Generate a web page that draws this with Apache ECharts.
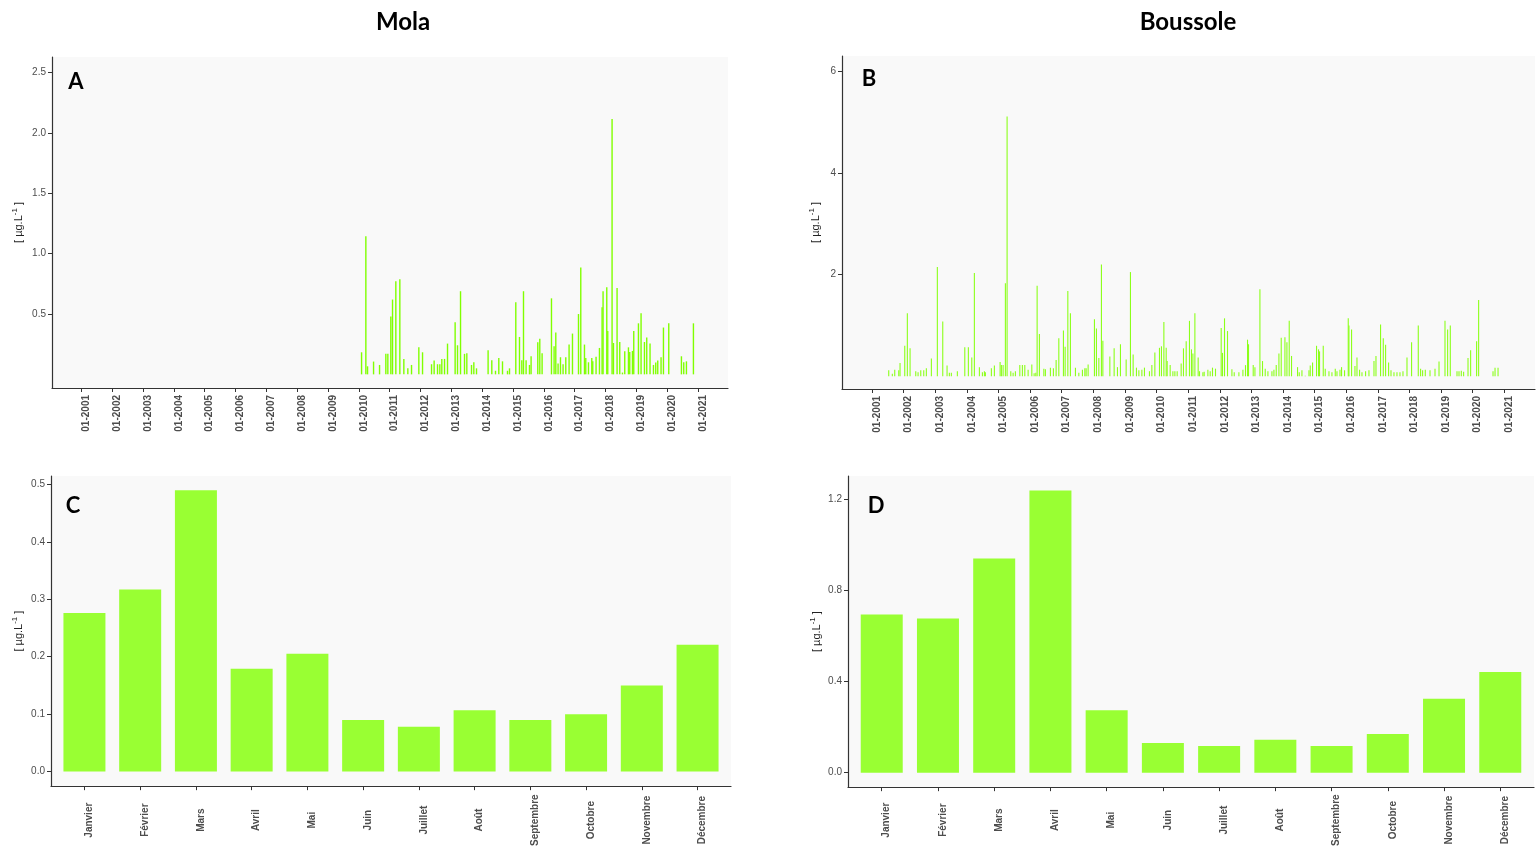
<!DOCTYPE html>
<html><head><meta charset="utf-8">
<script src="https://cdn.jsdelivr.net/npm/echarts@6/dist/echarts.min.js"></script>
<style>html,body{margin:0;padding:0;background:#fff}#c{width:1539px;height:849px}</style>
</head><body><div id="c"></div>
<script>
// ---------- DATA ----------
const months = ['Janvier','Février','Mars','Avril','Mai','Juin','Juillet','Août','Septembre','Octobre','Novembre','Décembre'];
const molaMonthly = [0.276, 0.317, 0.490, 0.179, 0.205, 0.090, 0.078, 0.107, 0.090, 0.100, 0.150, 0.221];
const bousMonthly = [0.693, 0.676, 0.938, 1.236, 0.274, 0.130, 0.117, 0.144, 0.117, 0.169, 0.324, 0.441];
const yearTicks = [2001,2002,2003,2004,2005,2006,2007,2008,2009,2010,2011,2012,2013,2014,2015,2016,2017,2018,2019,2020,2021];

// Mola sampling dates (decimal years) and values
const molaYears = [2010.088,2010.227,2010.282,2010.477,2010.671,2010.875,2010.940,2011.037,2011.092,2011.199,
2011.329,2011.459,2011.588,2011.708,2011.945,2012.065,2012.357,2012.441,2012.551,2012.626,
2012.690,2012.778,2012.875,2013.122,2013.199,2013.297,2013.426,2013.501,2013.653,2013.728,
2013.815,2014.191,2014.311,2014.431,2014.538,2014.658,2014.820,2014.885,2015.089,2015.209,
2015.284,2015.339,2015.423,2015.533,2015.585,2015.802,2015.867,2015.942,2016.246,2016.331,
2016.386,2016.460,2016.538,2016.622,2016.710,2016.817,2016.927,2017.122,2017.196,2017.316,
2017.358,2017.446,2017.553,2017.585,2017.692,2017.802,2017.887,2017.919,2018.039,2018.071,
2018.211,2018.256,2018.373,2018.460,2018.548,2018.622,2018.742,2018.784,2018.872,2018.914,
2019.066,2019.151,2019.261,2019.335,2019.442,2019.553,2019.627,2019.692,2019.799,2019.877,
2020.049,2020.460,2020.535,2020.622,2020.849];
const molaValues = [0.183,1.144,0.067,0.106,0.078,0.170,0.170,0.479,0.620,0.771,
0.788,0.128,0.050,0.078,0.224,0.183,0.084,0.114,0.084,0.084,
0.128,0.128,0.255,0.432,0.241,0.689,0.170,0.176,0.078,0.100,
0.050,0.200,0.117,0.030,0.136,0.108,0.030,0.050,0.597,0.310,
0.117,0.689,0.117,0.078,0.150,0.266,0.296,0.176,0.630,0.233,
0.346,0.090,0.142,0.084,0.142,0.247,0.338,0.500,0.885,0.247,
0.136,0.100,0.136,0.108,0.147,0.219,0.556,0.689,0.722,0.360,
2.116,0.260,0.716,0.268,0.015,0.191,0.224,0.186,0.194,0.360,
0.423,0.506,0.268,0.305,0.255,0.078,0.098,0.114,0.142,0.388,
0.423,0.150,0.100,0.108,0.423];

// Boussole sampling dates (decimal years) and values
const bousYears = [2001.528,2001.642,2001.718,2001.845,2001.886,2002.035,2002.117,2002.203,2002.383,2002.456,
2002.541,2002.636,2002.718,2002.877,2003.066,2003.237,2003.373,2003.446,2003.509,2003.699,
2003.934,2004.047,2004.155,2004.237,2004.396,2004.491,2004.554,2004.585,2004.775,2004.870,
2005.051,2005.092,2005.146,2005.218,2005.272,2005.389,2005.462,2005.535,2005.674,2005.756,
2005.832,2005.937,2006.054,2006.127,2006.180,2006.222,2006.294,2006.434,2006.484,2006.642,
2006.737,2006.823,2006.908,2007.054,2007.108,2007.193,2007.275,2007.434,2007.541,2007.655,
2007.731,2007.772,2007.835,2008.035,2008.098,2008.174,2008.256,2008.301,2008.522,2008.658,
2008.763,2008.858,2009.038,2009.174,2009.259,2009.364,2009.440,2009.535,2009.617,2009.775,
2009.851,2009.946,2010.092,2010.155,2010.231,2010.304,2010.335,2010.430,2010.516,2010.579,
2010.652,2010.778,2010.851,2010.937,2011.041,2011.104,2011.149,2011.212,2011.316,2011.358,
2011.465,2011.506,2011.623,2011.696,2011.769,2011.864,2012.044,2012.085,2012.149,2012.244,
2012.383,2012.456,2012.604,2012.731,2012.813,2012.877,2012.908,2013.057,2013.111,2013.269,
2013.351,2013.437,2013.522,2013.649,2013.712,2013.785,2013.870,2013.943,2014.060,2014.123,
2014.196,2014.269,2014.459,2014.513,2014.598,2014.703,2014.820,2014.861,2014.934,2015.060,
2015.123,2015.155,2015.272,2015.335,2015.453,2015.547,2015.652,2015.706,2015.801,2015.851,
2015.946,2016.063,2016.085,2016.168,2016.275,2016.339,2016.421,2016.497,2016.611,2016.718,
2016.877,2016.940,2017.085,2017.171,2017.244,2017.339,2017.415,2017.509,2017.604,2017.699,
2017.794,2017.921,2018.066,2018.278,2018.351,2018.415,2018.500,2018.649,2018.807,2018.934,
2019.123,2019.206,2019.291,2019.503,2019.566,2019.639,2019.712,2019.851,2019.934,2020.123,
2020.187,2020.642,2020.706,2020.801];
const bousValues = [0.12,0.05,0.13,0.12,0.26,0.60,1.24,0.55,0.10,0.08,
0.12,0.12,0.16,0.35,2.15,1.08,0.21,0.07,0.07,0.10,
0.57,0.57,0.37,2.03,0.18,0.08,0.10,0.08,0.16,0.21,
0.28,0.22,0.22,1.83,5.11,0.10,0.07,0.10,0.22,0.22,
0.22,0.13,0.23,0.06,0.07,1.78,0.83,0.15,0.14,0.17,
0.16,0.32,0.75,0.90,0.58,1.68,1.24,0.17,0.07,0.13,
0.16,0.16,0.23,1.12,0.94,0.36,2.20,0.70,0.39,0.55,
0.18,0.63,0.33,2.05,0.43,0.17,0.12,0.13,0.17,0.10,
0.22,0.47,0.56,0.59,1.07,0.56,0.30,0.22,0.10,0.10,
0.10,0.25,0.55,0.69,1.09,0.53,0.45,1.24,0.37,0.10,
0.08,0.09,0.13,0.10,0.17,0.15,0.95,0.46,1.14,0.89,
0.14,0.08,0.08,0.13,0.22,0.72,0.63,0.22,0.18,1.71,
0.30,0.15,0.10,0.10,0.13,0.22,0.45,0.76,0.77,0.67,
1.09,0.40,0.18,0.08,0.12,0.01,0.12,0.21,0.27,0.60,
0.53,0.49,0.60,0.15,0.10,0.08,0.15,0.10,0.13,0.18,
0.12,1.14,1.00,0.92,0.20,0.37,0.13,0.08,0.10,0.12,
0.30,0.40,1.02,0.75,0.62,0.27,0.12,0.08,0.08,0.08,
0.10,0.37,0.67,1.00,0.15,0.12,0.13,0.12,0.15,0.29,
1.09,0.92,1.00,0.10,0.10,0.11,0.09,0.36,0.51,0.69,
1.50,0.10,0.17,0.17];

// ---------- CHART ----------
const AX = '#333333', LBL = '#4d4d4d', FF = 'Liberation Sans, Arial, sans-serif';
const unitName = '[ µg.L{sup|-1} ]';

function yAxis(gi, min, max, ticks, fmt, gap) {
  return {
    type: 'value', gridIndex: gi, min: min, max: max,
    axisLine: {show: true, onZero: false, lineStyle: {color: AX, width: 1.2}},
    axisTick: {show: true, length: 4, customValues: ticks, lineStyle: {color: AX}},
    axisLabel: {customValues: ticks, formatter: fmt, color: LBL, fontSize: 10, margin: 6, fontFamily: FF},
    splitLine: {show: false},
    name: unitName, nameLocation: 'middle', nameGap: gap, nameRotate: 90,
    nameTextStyle: {color: '#222', fontSize: 11, fontFamily: FF, lineHeight: 15,
      rich: {sup: {fontSize: 8, fontFamily: FF, color: '#222', verticalAlign: 'top', lineHeight: 9}}}
  };
}
function xYearAxis(gi) {
  return {
    type: 'value', gridIndex: gi, min: 2000.05, max: 2021.97,
    axisLine: {show: true, onZero: false, lineStyle: {color: AX, width: 1.2}},
    axisTick: {show: true, length: 4, customValues: yearTicks, lineStyle: {color: AX}},
    axisLabel: {customValues: yearTicks, formatter: v => '01-' + Math.round(v), rotate: 90,
      align: 'right', verticalAlign: 'top',
      color: LBL, fontSize: 10, fontWeight: 'bold', margin: 7, fontFamily: FF},
    splitLine: {show: false}
  };
}
function xMonthAxis(gi, margin) {
  const ticks = months.map((m, i) => i + 1);
  return {
    type: 'value', gridIndex: gi, min: 0.4, max: 12.6,
    axisLine: {show: true, onZero: false, lineStyle: {color: AX, width: 1.2}},
    axisTick: {show: true, length: 4, customValues: ticks, lineStyle: {color: AX}},
    axisLabel: {customValues: ticks, formatter: v => months[Math.round(v) - 1], rotate: 90,
      align: 'center', verticalAlign: 'top',
      color: LBL, fontSize: 10, fontWeight: 'bold', margin: margin, fontFamily: FF},
    splitLine: {show: false}
  };
}
const gridBase = {show: true, backgroundColor: '#f9f9f9', borderWidth: 0, containLabel: false};

function letter(txt, x, y, size) {
  return {type: 'text', x: x, y: y, silent: true,
    style: {text: txt, fill: '#000', font: 'bold ' + size + 'px Lato, sans-serif',
      align: 'center', verticalAlign: 'middle', textAlign: 'center', textVerticalAlign: 'middle'}};
}

const option = {
  animation: false,
  backgroundColor: '#ffffff',
  grid: [
    Object.assign({left: 52, top: 57, width: 676, height: 331}, gridBase),
    Object.assign({left: 842, top: 56, width: 693, height: 333}, gridBase),
    Object.assign({left: 51, top: 476, width: 680, height: 313}, gridBase),
    Object.assign({left: 848, top: 476, width: 686, height: 316}, gridBase)
  ],
  xAxis: [xYearAxis(0), xYearAxis(1), xMonthAxis(2, 34), xMonthAxis(3, 33)],
  yAxis: [
    yAxis(0, -0.113, 2.63, [0.5, 1, 1.5, 2, 2.5], v => v.toFixed(1), 26),
    yAxis(1, -0.25, 6.3, [2, 4, 6], v => String(Math.round(v)), 19),
    yAxis(2, -0.0253, 0.5146, [0, 0.1, 0.2, 0.3, 0.4, 0.5], v => v.toFixed(1), 25),
    yAxis(3, -0.0635, 1.30, [0, 0.4, 0.8, 1.2], v => v.toFixed(1), 22)
  ],
  series: [
    {type: 'bar', xAxisIndex: 0, yAxisIndex: 0, barWidth: 1.4, silent: true,
      itemStyle: {color: '#80ff00'}, data: molaYears.map((y, i) => [y, molaValues[i]])},
    {type: 'bar', xAxisIndex: 1, yAxisIndex: 1, barWidth: 1.1, silent: true,
      itemStyle: {color: '#8cff1a'}, data: bousYears.map((y, i) => [y, bousValues[i]])},
    {type: 'bar', xAxisIndex: 2, yAxisIndex: 2, barWidth: 42, silent: true,
      itemStyle: {color: '#99ff33'}, data: months.map((m, i) => [i + 1, molaMonthly[i]])},
    {type: 'bar', xAxisIndex: 3, yAxisIndex: 3, barWidth: 42, silent: true,
      itemStyle: {color: '#99ff33'}, data: months.map((m, i) => [i + 1, bousMonthly[i]])}
  ],
  graphic: [
    letter('Mola', 403, 22, 24),
    letter('Boussole', 1188, 22, 24),
    letter('A', 76, 82, 22),
    letter('B', 869, 79, 22),
    letter('C', 73, 506, 22),
    letter('D', 876, 506, 22)
  ]
};
const chart = echarts.init(document.getElementById('c'));
chart.setOption(option);
</script>
</body></html>
